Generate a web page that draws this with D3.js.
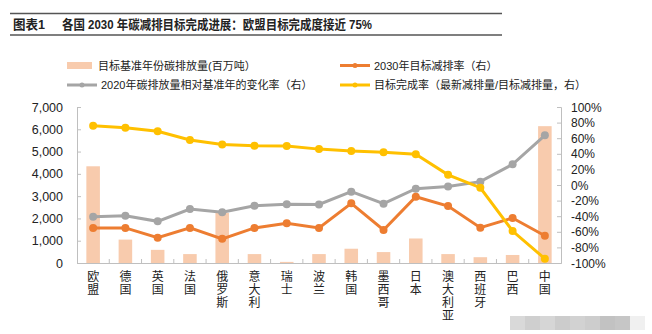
<!DOCTYPE html>
<html>
<head>
<meta charset="utf-8">
<script src="https://cdn.jsdelivr.net/npm/d3@7"></script>
<style>
  body { margin: 0; background: #fff; }
  svg { font-family: "Liberation Sans", "Noto Sans CJK SC", sans-serif; }
</style>
</head>
<body>
<svg width="652" height="334"></svg>
<script>
// data
const countries = ["欧盟", "德国", "英国", "法国", "俄罗斯", "意大利", "瑞士", "波兰", "韩国", "墨西哥", "日本", "澳大利亚", "西班牙", "巴西", "中国"];
const baseEmission = [4340, 1050, 590, 400, 2250, 400, 50, 400, 640, 490, 1100, 400, 260, 360, 6140];
const change2020 = [-40.6, -39.3, -46.6, -30.8, -35, -26.5, -24.8, -25, -8.5, -24, -4.7, -2, 4.3, 26.5, 63.7];
const target2030 = [-55, -55, -67.5, -55, -69, -55, -49, -55, -23.5, -57.7, -15, -27, -54.7, -42.3, -65];
const completion = [76, 73.5, 69, 57.7, 52, 50.4, 50, 46, 43.6, 42, 39.3, 13, -3.5, -59, -94.5];
const leftTicks = [0, 1000, 2000, 3000, 4000, 5000, 6000, 7000];
const rightTicks = [-100, -80, -60, -40, -20, 0, 20, 40, 60, 80, 100];

const svg = d3.select("svg");
const plotL = 77, plotR = 561, plotT = 107, plotB = 263;

const x = d3.scaleBand().domain(countries).range([plotL, plotR]);
const yL = d3.scaleLinear().domain([0, 7000]).range([plotB, plotT]);
const yR = d3.scaleLinear().domain([-100, 100]).range([plotB, plotT]);

// title block
svg.append("line").attr("x1", 10).attr("x2", 502).attr("y1", 13.5).attr("y2", 13.5)
  .attr("stroke", "#555").attr("stroke-width", 1.5);
svg.append("line").attr("x1", 10).attr("x2", 502).attr("y1", 35).attr("y2", 35)
  .attr("stroke", "#555").attr("stroke-width", 1.5);
svg.append("text").attr("x", 13).attr("y", 29).attr("font-size", 13).attr("font-weight", "bold")
  .attr("fill", "#222").attr("textLength", 32).attr("lengthAdjust", "spacingAndGlyphs").text("图表1");
svg.append("text").attr("x", 62).attr("y", 29).attr("font-size", 13).attr("font-weight", "bold")
  .attr("fill", "#222").attr("textLength", 310).attr("lengthAdjust", "spacingAndGlyphs")
  .text("各国 2030 年碳减排目标完成进展：欧盟目标完成度接近 75%");

// legend
const legend = [
  { label: "目标基准年份碳排放量(百万吨）", color: "#F8CBAD", type: "bar", x: 67, y: 65.5 },
  { label: "2030年目标减排率（右）", color: "#ED7D31", type: "line", x: 340, y: 65.5 },
  { label: "2020年碳排放量相对基准年的变化率（右）", color: "#A5A5A5", type: "line", x: 67, y: 85 },
  { label: "目标完成率（最新减排量/目标减排量，右）", color: "#FFC000", type: "line", x: 340, y: 85 }
];
const lg = svg.append("g").selectAll("g").data(legend).join("g")
  .attr("transform", d => `translate(${d.x},${d.y})`);
lg.filter(d => d.type === "bar").append("rect")
  .attr("x", 0).attr("y", -3.5).attr("width", 25).attr("height", 7).attr("fill", d => d.color);
lg.filter(d => d.type === "line").append("line")
  .attr("x1", 0).attr("x2", 30).attr("stroke", d => d.color).attr("stroke-width", 3);
lg.filter(d => d.type === "line").append("circle")
  .attr("cx", 15).attr("r", 2.5).attr("fill", d => d.color);
lg.append("text").attr("x", d => d.type === "bar" ? 31 : 34).attr("y", 4)
  .attr("font-size", 11).attr("fill", "#222").text(d => d.label);

// bars
const bw = x.bandwidth() * 0.42;
svg.append("g").selectAll("rect").data(countries).join("rect")
  .attr("x", d => x(d) + (x.bandwidth() - bw) / 2)
  .attr("width", bw)
  .attr("y", (d, i) => yL(baseEmission[i]))
  .attr("height", (d, i) => plotB - yL(baseEmission[i]))
  .attr("fill", "#F8CBAD");

// axes
const axisColor = "#BFBFBF";
const gL = svg.append("g").attr("transform", `translate(${plotL},0)`)
  .call(d3.axisRight(yL).tickValues(leftTicks).tickSize(4).tickFormat(""));
gL.selectAll("line,path").attr("stroke", axisColor);
svg.append("g").selectAll("text").data(leftTicks).join("text")
  .attr("x", 63).attr("y", d => yL(d) + 4.5).attr("text-anchor", "end")
  .attr("font-size", 12.5).attr("fill", "#222").text(d3.format(","));

const gR = svg.append("g").attr("transform", `translate(${plotR},0)`)
  .call(d3.axisLeft(yR).tickValues(rightTicks).tickSize(4).tickFormat(""));
gR.selectAll("line,path").attr("stroke", axisColor);
svg.append("g").selectAll("text").data(rightTicks).join("text")
  .attr("x", 571).attr("y", d => yR(d) + 4.5)
  .attr("font-size", 12).attr("fill", "#222").text(d => d + "%");

const gB = svg.append("g").attr("transform", `translate(0,${plotB})`)
  .call(d3.axisTop(x).tickSize(0).tickFormat(""));
gB.selectAll("path").attr("stroke", axisColor);
gB.append("g").selectAll("line").data(countries.slice(1)).join("line")
  .attr("x1", d => x(d)).attr("x2", d => x(d)).attr("y1", 0).attr("y2", -4)
  .attr("stroke", axisColor);

// vertical category labels
const lab = svg.append("g").selectAll("text").data(countries).join("text")
  .attr("font-size", 12).attr("fill", "#222").attr("text-anchor", "middle");
lab.selectAll("tspan").data(d => Array.from(d).map(c => ({ c, key: d }))).join("tspan")
  .attr("x", d => x(d.key) + x.bandwidth() / 2)
  .attr("y", (d, i) => 281 + i * 13)
  .text(d => d.c);

// lines
const series = [
  { values: change2020, color: "#A5A5A5" },
  { values: target2030, color: "#ED7D31" },
  { values: completion, color: "#FFC000" }
];
const line = d3.line().x(d => x(d[0]) + x.bandwidth() / 2).y(d => yR(d[1]));
series.forEach(s => {
  const pts = countries.map((c, i) => [c, s.values[i]]);
  svg.append("path").datum(pts).attr("d", line)
    .attr("fill", "none").attr("stroke", s.color).attr("stroke-width", 3);
  svg.append("g").selectAll("circle").data(pts).join("circle")
    .attr("cx", d => x(d[0]) + x.bandwidth() / 2).attr("cy", d => yR(d[1]))
    .attr("r", 4).attr("fill", s.color);
});

// blurred watermark patch
const shades = ["#d9d9d9", "#cfcfcf", "#d6d6d6", "#cccccc", "#d2d2d2", "#cdcdcd", "#c2c2c2", "#c6c6c6", "#f0f0f0"];
svg.append("g").selectAll("rect").data(shades).join("rect")
  .attr("x", (d, i) => 510 + i * 15).attr("y", 316).attr("width", 15).attr("height", 14)
  .attr("fill", d => d);
</script>
</body>
</html>
